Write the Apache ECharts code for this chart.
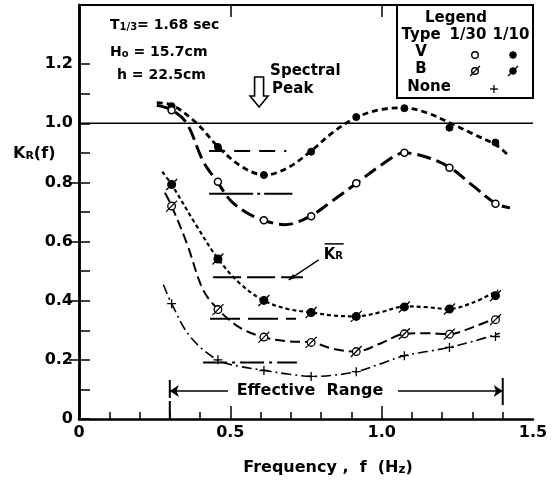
<!DOCTYPE html>
<html><head><meta charset="utf-8">
<script src="https://cdn.jsdelivr.net/npm/echarts@6/dist/echarts.min.js"></script>
<style>html,body{margin:0;padding:0;background:#fff}#c{width:552px;height:481px}</style>
</head><body><div id="c"></div>
<script>
// ---- measured points (frequency in Hz, K_R(f)) ----
const freq = [0.306, 0.459, 0.611, 0.767, 0.916, 1.075, 1.224, 1.376];
const kV30 = [1.044, 0.802, 0.672, 0.686, 0.797, 0.900, 0.850, 0.728];
const kV10 = [1.058, 0.920, 0.825, 0.904, 1.021, 1.051, 0.985, 0.935];
const kB30 = [0.720, 0.370, 0.277, 0.259, 0.228, 0.288, 0.287, 0.336];
const kB10 = [0.793, 0.541, 0.401, 0.360, 0.347, 0.379, 0.372, 0.417];
const kNone = [0.390, 0.200, 0.164, 0.144, 0.160, 0.214, 0.242, 0.279];

// ---- fitted curves ----
const fitV10 = [[0.257,1.07],[0.31,1.06],[0.389,1.0],[0.46,0.92],[0.54,0.852],[0.615,0.825],[0.69,0.85],[0.765,0.905],[0.84,0.97],[0.917,1.02],[1.0,1.047],[1.075,1.052],[1.15,1.035],[1.228,1.0],[1.30,0.965],[1.38,0.925],[1.42,0.89]];
const fitV30 = [[0.257,1.061],[0.306,1.045],[0.356,1.0],[0.41,0.872],[0.457,0.802],[0.50,0.74],[0.55,0.70],[0.609,0.672],[0.68,0.657],[0.764,0.686],[0.84,0.74],[0.917,0.797],[1.0,0.86],[1.075,0.9],[1.15,0.885],[1.226,0.85],[1.30,0.79],[1.378,0.728],[1.424,0.714]];
const fitB10 = [[0.275,0.836],[0.306,0.793],[0.389,0.652],[0.46,0.541],[0.53,0.46],[0.609,0.401],[0.69,0.372],[0.769,0.36],[0.84,0.35],[0.915,0.347],[1.0,0.362],[1.077,0.381],[1.15,0.378],[1.22,0.372],[1.30,0.393],[1.385,0.435]];
const fitB30 = [[0.284,0.765],[0.306,0.72],[0.356,0.595],[0.41,0.437],[0.46,0.37],[0.53,0.31],[0.609,0.277],[0.69,0.263],[0.769,0.259],[0.84,0.237],[0.915,0.228],[1.0,0.257],[1.074,0.288],[1.15,0.29],[1.221,0.287],[1.30,0.31],[1.39,0.347]];
const fitNone = [[0.279,0.454],[0.306,0.39],[0.367,0.279],[0.457,0.20],[0.53,0.178],[0.614,0.164],[0.69,0.152],[0.769,0.144],[0.84,0.148],[0.915,0.16],[1.0,0.188],[1.074,0.214],[1.15,0.228],[1.221,0.242],[1.30,0.262],[1.39,0.29]];

// ---- mean K_R (V1/10, V1/30, B1/10, B1/30, None) and their drawn extents ----
const meanKR   = [0.906, 0.762, 0.479, 0.339, 0.191];
const meanFrom = [0.430, 0.430, 0.443, 0.433, 0.410];
const meanTo   = [0.685, 0.705, 0.740, 0.717, 0.720];

// ---- reference line, effective range ----
const refK = 1.0;
const effectiveRange = [0.3, 1.4];
const effectiveY = 0.095;

// ---- ticks / labels ----
const xMinorTicks = [0.1,0.2,0.3,0.4,0.5,0.6,0.7,0.8,0.9,1.0,1.1,1.2,1.3,1.4];
const xMajorTicks = [0.5, 1.0];
const xLabels = [0, 0.5, 1.0, 1.5];
const yTicks = [0,0.1,0.2,0.3,0.4,0.5,0.6,0.7,0.8,0.9,1.0,1.1,1.2];
const yLabels = [0,0.2,0.4,0.6,0.8,1.0,1.2];
const yRightTicks = [0.2,0.4,0.6,0.8];

const FONT = 'DejaVu Sans';
const W = 'bold';
const chart = echarts.init(document.getElementById('c'), null, {renderer:'canvas'});

const fmt = v => (Math.abs(v) < 1e-9 ? '0' : v.toFixed(1));
const pts = arr => freq.map((f,i)=>[f, arr[i]]);
const curve = (data, dash, width) => ({type:'line', data, symbol:'none', showSymbol:false, smooth:0.35,
  lineStyle:{color:'#000', width, type:dash, cap:'butt'}, z:3, silent:true});
const seg = (data, dash, width) => ({type:'line', data, symbol:'none', showSymbol:false,
  lineStyle:{color:'#000', width, type:dash, cap:'butt'}, z:3, silent:true});
const marks = (arr, symbol, size, fill, bw) => ({type:'scatter', data: pts(arr), symbol, symbolSize:size,
  itemStyle:{color:fill, borderColor:'#000', borderWidth:bw, opacity:1}, z:6, silent:true});

const slashCircle = 'path://M2.5,6 A3.5,3.5 0 1,0 9.5,6 A3.5,3.5 0 1,0 2.5,6 Z M1,11 L11,1';
const plusSym = 'path://M5,0 L5,10 M0,5 L10,5';

const meanDash = [[16,9],[44,4,3,4],[28,6],[30,8],[24,5,3,5]];

const series = [
  seg([[0, refK],[1.5, refK]], 'solid', 1.5),
  curve(fitV10, [6,4], 2.8),
  curve(fitV30, [14,6], 3),
  curve(fitB10, [4,3], 2.2),
  curve(fitB30, [10,5], 2),
  curve(fitNone, [10,4,2,4], 1.6),
];
meanKR.forEach((m,i)=>series.push(seg([[meanFrom[i], m],[meanTo[i], m]], meanDash[i], 2)));
// effective range bracket
series.push(Object.assign(seg([[effectiveRange[0],0],[effectiveRange[0],0.139]], [18,3], 2), {
  markLine:{silent:true, symbol:['none','arrow'], symbolSize:9, label:{show:false},
    lineStyle:{color:'#000', width:1.5, type:'solid'},
    data:[[{coord:[0.492,effectiveY]},{coord:[effectiveRange[0],effectiveY]}],
          [{coord:[1.054,effectiveY]},{coord:[effectiveRange[1],effectiveY]}]]}
}));
series.push(seg([[effectiveRange[1],0.047],[effectiveRange[1],0.139]], 'solid', 2));
// markers
series.push(marks(kV10, 'circle', 7, '#000', 1));
series.push(marks(kV30, 'circle', 7, '#fff', 1.5));
series.push(marks(kB10, slashCircle, 11, '#000', 1.3));
series.push(marks(kB30, slashCircle, 11, '#fff', 1.3));
series.push(marks(kNone, plusSym, 9, '#000', 1.3));

const axisLabelStyle = {fontFamily:FONT, fontSize:16, fontWeight:W, color:'#000'};
const option = {
  animation:false,
  backgroundColor:'#fff',
  grid:{left:79, right:19, top:5, bottom:62, containLabel:false},
  xAxis:[
    {type:'value', position:'bottom', min:0, max:1.5, interval:0.1,
     axisLine:{show:true, lineStyle:{color:'#000', width:2.5}},
     axisTick:{show:true, inside:true, length:7, customValues:xMinorTicks, lineStyle:{color:'#000', width:1.5}},
     axisLabel:Object.assign({customValues:xLabels, margin:6, formatter:fmt}, axisLabelStyle),
     splitLine:{show:false}},
    {type:'value', position:'bottom', min:0, max:1.5, interval:0.1,
     axisLine:{show:false},
     axisTick:{show:true, inside:true, length:13, customValues:xMajorTicks, lineStyle:{color:'#000', width:1.5}},
     axisLabel:{show:false}, splitLine:{show:false}},
    {type:'value', position:'top', min:0, max:1.5, interval:0.1,
     axisLine:{show:true, lineStyle:{color:'#000', width:2.2}},
     axisTick:{show:true, inside:true, length:12, customValues:xMajorTicks, lineStyle:{color:'#000', width:1.5}},
     axisLabel:{show:false}, splitLine:{show:false}}
  ],
  yAxis:[
    {type:'value', position:'left', min:0, max:1.4, interval:0.1,
     axisLine:{show:true, lineStyle:{color:'#000', width:2.5}},
     axisTick:{show:true, inside:true, length:11, customValues:yTicks, lineStyle:{color:'#000', width:1.5}},
     axisLabel:Object.assign({customValues:yLabels, margin:6, formatter:fmt}, axisLabelStyle),
     splitLine:{show:false}},
    {type:'value', position:'right', min:0, max:1.4, interval:0.1,
     axisLine:{show:true, lineStyle:{color:'#000', width:2.5}},
     axisTick:{show:true, inside:true, length:10, customValues:yRightTicks, lineStyle:{color:'#000', width:1.5}},
     axisLabel:{show:false}, splitLine:{show:false}}
  ],
  series
};
chart.setOption(option);

const P = (x,y) => chart.convertToPixel({seriesIndex:1}, [x,y]);
const txt = (x,y,text,extra) => ({type:'text', x, y, z:20, style:Object.assign({text, fontFamily:FONT, fontSize:15, fontWeight:W, fill:'#000', align:'left', verticalAlign:'middle'}, extra||{})});
const R = (size, extra) => Object.assign({fontFamily:FONT, fontSize:size, fontWeight:W}, extra||{});

const eff = P(0.763, effectiveY);
const tip = P(0.595, 1.055);
const kr = P(0.815, 0.555);
const ylab = P(0, 0.895);

const g = [];
// parameters text
g.push(txt(110, 25, '', {rich:{a:R(14),s:R(10,{padding:[5,0,0,0]})}, text:'{a|T}{s|1/3}{a|= 1.68 sec}'}));
g.push(txt(110, 52, '', {rich:{a:R(14),s:R(10,{padding:[5,0,0,0]})}, text:'{a|H}{s|o}{a| = 15.7cm}'}));
g.push(txt(117, 75, 'h = 22.5cm', {fontSize:14}));
// spectral peak
g.push({type:'polygon', z:20, shape:{points:[[tip[0]-4.5,tip[1]-30],[tip[0]+4.5,tip[1]-30],[tip[0]+4.5,tip[1]-11],[tip[0]+9,tip[1]-11],[tip[0],tip[1]],[tip[0]-9,tip[1]-11],[tip[0]-4.5,tip[1]-11]]},
  style:{fill:'#fff', stroke:'#000', lineWidth:1.6}});
g.push(txt(tip[0]+11, 71, 'Spectral'));
g.push(txt(tip[0]+13, 89, 'Peak'));
// K_R bar label
g.push(txt(kr[0]-2, kr[1], '', {rich:{k:R(15),r:R(10,{padding:[3,0,0,0]})}, text:'{k|K}{r|R}'}));
g.push({type:'line', z:20, shape:{x1:kr[0]-1, y1:kr[1]-11, x2:kr[0]+18, y2:kr[1]-11}, style:{stroke:'#000', lineWidth:1.5}});
const a0 = [kr[0]-7, kr[1]+5], a1 = [kr[0]-37, kr[1]+25];
g.push({type:'line', z:20, shape:{x1:a0[0], y1:a0[1], x2:a1[0], y2:a1[1]}, style:{stroke:'#000', lineWidth:1.3}});
g.push({type:'polygon', z:20, shape:{points:[[a1[0],a1[1]],[a1[0]+7.2,a1[1]-1.8],[a1[0]+4.4,a1[1]-6]]}, style:{fill:'#000'}});
// effective range text
g.push(txt(eff[0], eff[1], 'Effective  Range', {align:'center', fontSize:16, backgroundColor:'#fff', padding:[0,4]}));
// axis titles
g.push(txt(13, ylab[1], '', {rich:{k:R(16),r:R(11,{padding:[4,0,0,0]})}, text:'{k|K}{r|R}{k|(f)}'}));
g.push(txt(328, 468, '', {align:'center', rich:{a:R(16),z:R(12,{padding:[4,0,0,0]})}, text:'{a|Frequency ,  f  (H}{z|z}{a|)}'}));
// legend box
g.push({type:'rect', z:18, shape:{x:397, y:5, width:136, height:93}, style:{fill:'#fff', stroke:'#000', lineWidth:2}});
g.push(txt(456, 18, 'Legend', {align:'center'}));
g.push(txt(421, 35, 'Type', {align:'center'}));
g.push(txt(468, 35, '1/30', {align:'center'}));
g.push(txt(511, 35, '1/10', {align:'center'}));
g.push(txt(421, 52, 'V', {align:'center'}));
g.push(txt(421, 69, 'B', {align:'center'}));
g.push(txt(429, 87, 'None', {align:'center'}));
g.push({type:'circle', z:21, shape:{cx:475, cy:55, r:3.3}, style:{fill:'#fff', stroke:'#000', lineWidth:1.4}});
g.push({type:'circle', z:21, shape:{cx:513, cy:55, r:3.3}, style:{fill:'#000', stroke:'#000', lineWidth:1}});
g.push({type:'circle', z:21, shape:{cx:475, cy:71, r:3.3}, style:{fill:'#fff', stroke:'#000', lineWidth:1.4}});
g.push({type:'line', z:21, shape:{x1:470, y1:76, x2:480, y2:66}, style:{stroke:'#000', lineWidth:1.3}});
g.push({type:'circle', z:21, shape:{cx:513, cy:71, r:3.3}, style:{fill:'#000', stroke:'#000', lineWidth:1}});
g.push({type:'line', z:21, shape:{x1:508, y1:76, x2:518, y2:66}, style:{stroke:'#000', lineWidth:1.3}});
g.push({type:'line', z:21, shape:{x1:494, y1:85, x2:494, y2:93}, style:{stroke:'#000', lineWidth:1.3}});
g.push({type:'line', z:21, shape:{x1:490, y1:89, x2:498, y2:89}, style:{stroke:'#000', lineWidth:1.3}});

chart.setOption({graphic:g});
</script>
</body></html>
